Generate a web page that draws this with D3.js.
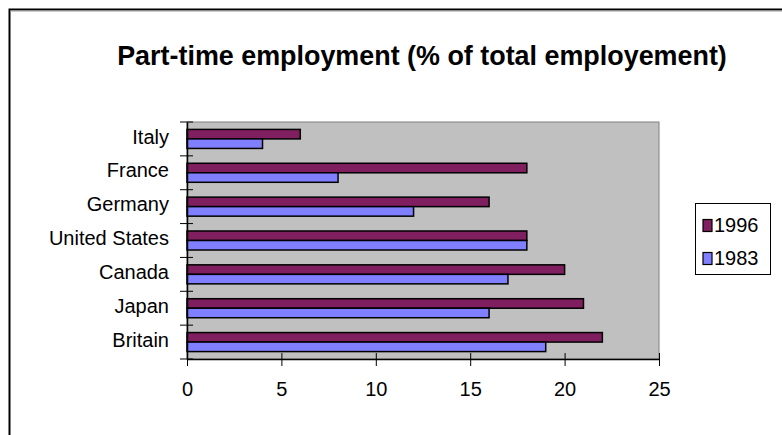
<!DOCTYPE html>
<html><head><meta charset="utf-8">
<script src="https://cdn.jsdelivr.net/npm/d3@7"></script>
<style>html,body{margin:0;padding:0;background:#fff;}svg{display:block;font-family:Arial,"Liberation Sans",sans-serif;}</style>
</head><body><svg id="c" width="782" height="435"></svg>
<script>
const categories = ["Italy","France","Germany","United States","Canada","Japan","Britain"];
const series = ["1996","1983"];
const values1996 = [6,18,16,18,20,21,22];
const values1983 = [4,8,12,18,17,16,19];
const xTicks = [0,5,10,15,20,25];
const colors = {"1996":"#7f1f5f","1983":"#7f7fff"};
const title = "Part-time employment (% of total employement)";
const FONT = "Arial, 'Liberation Sans', sans-serif";

const svg = d3.select("#c");
// outer frame
svg.append("path").attr("d","M9.5,435V9.5H782").attr("fill","none").attr("stroke","#000").attr("stroke-width",2);
svg.append("line").attr("x1",10).attr("x2",782).attr("y1",11).attr("y2",11).attr("stroke","#999").attr("stroke-width",1);

const L=187, R=659, T=122, B=359;
const x = d3.scaleLinear().domain([0,25]).range([L,R]);
const y = d3.scaleBand().domain(categories).range([T,B]);
const inner = d3.scaleBand().domain(series).range([0,y.bandwidth()]).paddingOuter(0.78).paddingInner(0);

svg.append("rect").attr("x",L).attr("y",T).attr("width",R-L).attr("height",B-T)
  .attr("fill","#c0c0c0").attr("stroke","#808080").attr("stroke-width",1);

const data = categories.map((c,i)=>({c, "1996":values1996[i], "1983":values1983[i]}));
const g = svg.append("g");
data.forEach(d=>{
  series.forEach(s=>{
    g.append("rect")
      .attr("x",x(0)).attr("y",y(d.c)+inner(s))
      .attr("width",x(d[s])-x(0)).attr("height",inner.bandwidth())
      .attr("fill",colors[s]).attr("stroke","#000").attr("stroke-width",1.5);
  });
});

// x axis
const xa = svg.append("g").attr("transform",`translate(0,${B})`)
  .call(d3.axisBottom(x).tickValues(xTicks).tickSize(0).tickPadding(0).tickFormat(d3.format("d")));
xa.select(".domain").attr("stroke","#000").attr("stroke-width",1.5);
xa.selectAll(".tick line").remove();
xa.selectAll(".tick").append("line").attr("y1",-6).attr("y2",7).attr("stroke","#000");
xa.selectAll("text").attr("y",37).attr("dy",0).attr("font-size",20).attr("fill","#000").attr("font-family",FONT);

// y axis
const ya = svg.append("g").attr("transform",`translate(${L},0)`)
  .call(d3.axisLeft(y).tickSize(0).tickPadding(18));
ya.select(".domain").attr("stroke","#000").attr("stroke-width",1.5);
ya.selectAll(".tick line").remove();
ya.selectAll("text").attr("dy","0.23em").attr("font-size",20).attr("fill","#000").attr("font-family",FONT);
const bounds = [...categories.map(c=>y(c)), B];
ya.selectAll(".bt").data(bounds).enter().append("line").attr("class","bt")
  .attr("x1",-7).attr("x2",6).attr("y1",d=>d).attr("y2",d=>d).attr("stroke","#000");

// title
const t = svg.append("text").attr("x",422).attr("y",65).attr("text-anchor","middle")
  .attr("font-weight","bold").attr("font-size",22).text(title);
const w = t.node().getComputedTextLength();
t.attr("font-size",22*610/w);

// legend
const lg = svg.append("g");
lg.append("rect").attr("x",695.5).attr("y",203.5).attr("width",75).attr("height",71)
  .attr("fill","#fff").attr("stroke","#000").attr("stroke-width",1);
series.forEach((s,i)=>{
  const yy = 219.5 + i*33;
  lg.append("rect").attr("x",703).attr("y",yy).attr("width",9).attr("height",12)
    .attr("fill",colors[s]).attr("stroke","#000").attr("stroke-width",1.2);
  lg.append("text").attr("x",714).attr("y",yy+12).attr("font-size",20).text(s);
});
</script></body></html>
